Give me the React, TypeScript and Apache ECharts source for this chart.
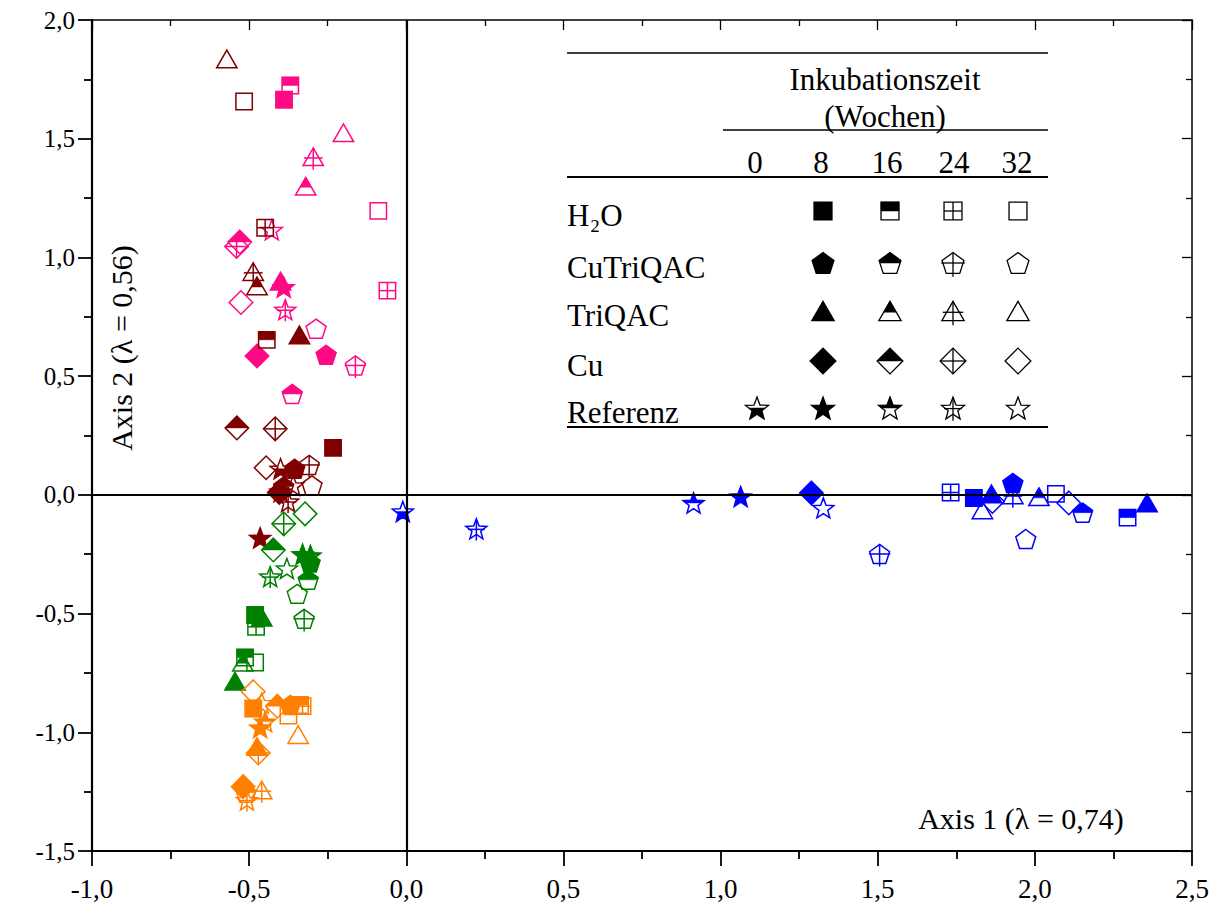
import React, { useEffect, useRef } from "react";
import * as echarts from "echarts";

// ---------- data ----------
const TREATMENTS = ["H2O", "CuTriQAC", "TriQAC", "Cu", "Referenz"];
const TREATMENT_LABELS = ["H₂O", "CuTriQAC", "TriQAC", "Cu", "Referenz"];
const WEEKS = [0, 8, 16, 24, 32];
const X_TICKS = [-1.0, -0.5, 0.0, 0.5, 1.0, 1.5, 2.0, 2.5];
const Y_TICKS = [-1.5, -1.0, -0.5, 0.0, 0.5, 1.0, 1.5, 2.0];
const X_TITLE = "Axis 1 (λ = 0,74)";
const Y_TITLE = "Axis 2 (λ = 0,56)";

type Pt = [string, number, number, number]; // treatment, week, axis1, axis2

const pinkPts: Pt[] = [
  ["H2O", 8, -0.389, 1.664],
  ["H2O", 16, -0.369, 1.724],
  ["H2O", 24, -0.06, 0.86],
  ["H2O", 32, -0.089, 1.196],
  ["TriQAC", 8, -0.4, 0.9],
  ["TriQAC", 16, -0.32, 1.3],
  ["TriQAC", 24, -0.296, 1.424],
  ["TriQAC", 32, -0.2, 1.525],
  ["Cu", 8, -0.475, 0.585],
  ["Cu", 16, -0.53, 1.065],
  ["Cu", 24, -0.54, 1.046],
  ["Cu", 32, -0.526, 0.81],
  ["CuTriQAC", 8, -0.255, 0.59],
  ["CuTriQAC", 16, -0.363, 0.425],
  ["CuTriQAC", 24, -0.162, 0.545],
  ["CuTriQAC", 32, -0.287, 0.7],
  ["Referenz", 8, -0.39, 0.875],
  ["Referenz", 24, -0.385, 0.78],
  ["Referenz", 32, -0.428, 1.116],
];

const maroonPts: Pt[] = [
  ["H2O", 8, -0.233, 0.198],
  ["H2O", 16, -0.444, 0.653],
  ["H2O", 24, -0.449, 1.125],
  ["H2O", 32, -0.516, 1.657],
  ["TriQAC", 8, -0.34, 0.674],
  ["TriQAC", 16, -0.475, 0.88],
  ["TriQAC", 24, -0.487, 0.94],
  ["TriQAC", 32, -0.571, 1.836],
  ["Cu", 8, -0.404, 0.01],
  ["Cu", 16, -0.539, 0.282],
  ["Cu", 24, -0.417, 0.278],
  ["Cu", 32, -0.446, 0.114],
  ["CuTriQAC", 8, -0.355, 0.11],
  ["CuTriQAC", 16, -0.39, 0.035],
  ["CuTriQAC", 24, -0.309, 0.126],
  ["CuTriQAC", 32, -0.3, 0.04],
  ["Referenz", 0, -0.4, 0.11],
  ["Referenz", 8, -0.465, -0.181],
  ["Referenz", 16, -0.4, 0.014],
  ["Referenz", 24, -0.376, -0.028],
  ["Referenz", 32, -0.36, 0.04],
];

const greenPts: Pt[] = [
  ["Cu", 16, -0.423, -0.232],
  ["Cu", 24, -0.39, -0.122],
  ["Cu", 32, -0.322, -0.08],
  ["Referenz", 8, -0.33, -0.25],
  ["Referenz", 16, -0.305, -0.255],
  ["Referenz", 24, -0.433, -0.344],
  ["Referenz", 32, -0.38, -0.31],
  ["CuTriQAC", 8, -0.306, -0.285],
  ["CuTriQAC", 16, -0.312, -0.358],
  ["CuTriQAC", 24, -0.325, -0.522],
  ["CuTriQAC", 32, -0.347, -0.417],
  ["H2O", 8, -0.481, -0.506],
  ["H2O", 16, -0.513, -0.685],
  ["H2O", 24, -0.478, -0.556],
  ["H2O", 32, -0.481, -0.706],
  ["TriQAC", 8, -0.545, -0.785],
  ["TriQAC", 16, -0.52, -0.705],
  ["TriQAC", 8, -0.46, -0.515],
];

const orangePts: Pt[] = [
  ["Cu", 8, -0.519, -1.229],
  ["Cu", 16, -0.41, -0.89],
  ["Cu", 24, -0.471, -1.087],
  ["Cu", 32, -0.487, -0.829],
  ["H2O", 8, -0.487, -0.9],
  ["H2O", 16, -0.338, -0.885],
  ["H2O", 24, -0.33, -0.89],
  ["H2O", 32, -0.375, -0.93],
  ["CuTriQAC", 8, -0.369, -0.885],
  ["CuTriQAC", 16, -0.51, -1.255],
  ["TriQAC", 8, -0.475, -1.06],
  ["TriQAC", 24, -0.46, -1.243],
  ["TriQAC", 32, -0.344, -1.01],
  ["Referenz", 8, -0.465, -0.98],
  ["Referenz", 16, -0.449, -0.955],
  ["Referenz", 24, -0.507, -1.285],
  ["Referenz", 32, -0.46, -0.877],
];

const bluePts: Pt[] = [
  ["Referenz", 0, -0.011, -0.07],
  ["Referenz", 24, 0.223, -0.143],
  ["Referenz", 16, 0.914, -0.034],
  ["Referenz", 8, 1.064, -0.007],
  ["Referenz", 32, 1.327, -0.055],
  ["Cu", 8, 1.289, 0.008],
  ["Cu", 32, 1.865, -0.028],
  ["Cu", 32, 2.108, -0.034],
  ["CuTriQAC", 8, 1.93, 0.05],
  ["CuTriQAC", 16, 2.152, -0.075],
  ["CuTriQAC", 24, 1.506, -0.249],
  ["CuTriQAC", 32, 1.971, -0.186],
  ["H2O", 8, 1.806, -0.013],
  ["H2O", 16, 2.295, -0.096],
  ["H2O", 24, 1.732, 0.01],
  ["H2O", 32, 2.067, 0.004],
  ["TriQAC", 8, 1.862, 0.004],
  ["TriQAC", 8, 2.357, -0.034],
  ["TriQAC", 16, 2.013, -0.008],
  ["TriQAC", 24, 1.93, 0.0],
  ["TriQAC", 32, 1.833, -0.063],
];

const GROUPS = [
  { name: "pink", color: "#FF0A84", pts: pinkPts },
  { name: "maroon", color: "#7F0000", pts: maroonPts },
  { name: "green", color: "#008000", pts: greenPts },
  { name: "orange", color: "#FF8000", pts: orangePts },
  { name: "blue", color: "#0000FF", pts: bluePts },
];

// ---------- marker geometry ----------
const FONT = "'Liberation Serif', 'Times New Roman', serif";

function outline(kind: number, cx: number, cy: number, r: number): number[][] {
  if (kind === 0) {
    const h = 0.78 * r;
    return [[cx - h, cy - h], [cx + h, cy - h], [cx + h, cy + h], [cx - h, cy + h]];
  }
  if (kind === 1) {
    const R = r;
    const c = cy + 0.095 * R;
    const pts: number[][] = [];
    for (let k = 0; k < 5; k++) {
      const a = ((-90 + 72 * k) * Math.PI) / 180;
      pts.push([cx + R * Math.cos(a), c + R * Math.sin(a)]);
    }
    return pts;
  }
  if (kind === 2) {
    const R = 1.12 * r;
    const c = cy + 0.25 * R;
    return [[cx, c - R], [cx + 0.866 * R, c + 0.5 * R], [cx - 0.866 * R, c + 0.5 * R]];
  }
  if (kind === 3) {
    const d = 1.12 * r;
    return [[cx, cy - d], [cx + d, cy], [cx, cy + d], [cx - d, cy]];
  }
  const R = 1.05 * r;
  const c = cy + 0.095 * R;
  const pts: number[][] = [];
  for (let k = 0; k < 10; k++) {
    const a = ((-90 + 36 * k) * Math.PI) / 180;
    const rr = k % 2 === 0 ? R : R * 0.42;
    pts.push([cx + rr * Math.cos(a), c + rr * Math.sin(a)]);
  }
  return pts;
}

function clipY(poly: number[][], yc: number, keepTop: boolean): number[][] {
  const inside = (p: number[]) => (keepTop ? p[1] <= yc : p[1] >= yc);
  const out: number[][] = [];
  for (let i = 0; i < poly.length; i++) {
    const a = poly[i];
    const b = poly[(i + 1) % poly.length];
    const ai = inside(a);
    const bi = inside(b);
    if (ai) out.push(a);
    if (ai !== bi) {
      const t = (yc - a[1]) / (b[1] - a[1]);
      out.push([a[0] + t * (b[0] - a[0]), yc]);
    }
  }
  return out;
}

function crossLines(kind: number, cx: number, cy: number, r: number): number[][] {
  // returns [x1,y1,x2,y2] list
  if (kind === 0) {
    const h = 0.78 * r;
    return [[cx - h, cy, cx + h, cy], [cx, cy - h, cx, cy + h]];
  }
  if (kind === 1) {
    return [[cx - 1.02 * r, cy, cx + 1.02 * r, cy], [cx, cy - 0.9 * r, cx, cy + 1.2 * r]];
  }
  if (kind === 2) {
    const R = 1.12 * r;
    return [[cx - 0.8 * R, cy + 0.1 * R, cx + 0.8 * R, cy + 0.1 * R], [cx, cy - 0.75 * R, cx, cy + 1.1 * R]];
  }
  if (kind === 3) {
    const d = 1.12 * r;
    return [[cx - d, cy, cx + d, cy], [cx, cy - d, cx, cy + d]];
  }
  const R = 1.05 * r;
  return [[cx - 0.75 * R, cy + 0.05 * R, cx + 0.75 * R, cy + 0.05 * R], [cx, cy - 0.85 * R, cx, cy + 1.05 * R]];
}

function markerEls(kind: number, week: number, cx: number, cy: number, r: number, color: string, lw: number): any[] {
  const poly = outline(kind, cx, cy, r);
  const els: any[] = [];
  const wi = WEEKS.indexOf(week);
  if (wi === 1) {
    els.push({ type: "polygon", shape: { points: poly }, style: { fill: color, stroke: color, lineWidth: lw } });
    return els;
  }
  if (wi === 2 || wi === 0) {
    const yc = kind === 2 ? cy + 0.1 * r : cy;
    els.push({ type: "polygon", shape: { points: clipY(poly, yc, wi === 2) }, style: { fill: color, stroke: color, lineWidth: 0.5 } });
  }
  els.push({ type: "polygon", shape: { points: poly }, style: { fill: "none", stroke: color, lineWidth: lw } });
  if (wi === 3) {
    for (const l of crossLines(kind, cx, cy, r)) {
      els.push({ type: "line", shape: { x1: l[0], y1: l[1], x2: l[2], y2: l[3] }, style: { stroke: color, lineWidth: lw } });
    }
  }
  return els;
}

// ---------- legend table (graphic) ----------
const TBL_L = 567;
const TBL_R = 1048;
const COL_X = [757, 823, 890, 953, 1018];
const NUM_X = [755, 821, 887, 954, 1017];
const ROW_Y = [211, 263, 311, 361, 408];

function legendGraphic(): any[] {
  const g: any[] = [];
  const txt = (text: string, x: number, y: number, align: string, size = 31) => ({
    type: "text",
    x,
    y,
    style: { text, fontSize: size, fontFamily: FONT, fill: "#000", textAlign: align, textVerticalAlign: "middle", align, verticalAlign: "middle" },
  });
  const hline = (y: number, x1: number, x2: number, w: number) => ({
    type: "line",
    shape: { x1, y1: y, x2, y2: y },
    style: { stroke: "#000", lineWidth: w },
  });
  g.push(hline(53, TBL_L, TBL_R, 1.3));
  g.push(txt("Inkubationszeit", 885, 79, "center"));
  g.push(txt("(Wochen)", 885, 116, "center"));
  g.push(hline(130, 723, TBL_R, 1.3));
  WEEKS.forEach((w, i) => g.push(txt(String(w), NUM_X[i], 162, "center")));
  g.push(hline(177, TBL_L, TBL_R, 2.2));
  TREATMENT_LABELS.forEach((lab, ti) => {
    g.push(txt(lab, TBL_L, ROW_Y[ti] + 4, "left"));
    WEEKS.forEach((w, wi) => {
      if (w === 0 && ti !== 4) return;
      for (const el of markerEls(ti, w, COL_X[wi], ROW_Y[ti], 11.5, "#000", 1.3)) g.push(el);
    });
  });
  g.push(hline(427, TBL_L, TBL_R, 2.2));
  // axis titles inside plot
  g.push(txt(X_TITLE, 1021, 818, "center", 30));
  g.push({
    type: "text",
    x: 121,
    y: 348,
    rotation: Math.PI / 2,
    style: { text: Y_TITLE, fontSize: 30, fontFamily: FONT, fill: "#000", textAlign: "center", textVerticalAlign: "middle", align: "center", verticalAlign: "middle" },
  });
  return g;
}

const fmt = (v: number) => v.toFixed(1).replace(".", ",");

export default function App() {
  const ref = useRef<HTMLDivElement>(null);
  useEffect(() => {
    if (!ref.current) return;
    const chart = echarts.init(ref.current, null, { renderer: "svg" });
    const axisCommon = (min: number, max: number) => ({
      type: "value",
      min,
      max,
      interval: 0.5,
      splitLine: { show: false },
    });
    const series: any[] = [
      {
        type: "scatter",
        data: [],
        z: 1,
        silent: true,
        markLine: {
          silent: true,
          symbol: "none",
          label: { show: false },
          lineStyle: { color: "#000", width: 2.2, type: "solid" },
          data: [{ xAxis: 0 }, { yAxis: 0 }],
        },
      },
    ];
    GROUPS.forEach((g) => {
      series.push({
        type: "custom",
        name: g.name,
        z: 3,
        encode: { x: 0, y: 1 },
        data: g.pts.map((p) => [p[2], p[3], TREATMENTS.indexOf(p[0]), p[1]]),
        renderItem: (params: any, api: any) => {
          const c = api.coord([api.value(0), api.value(1)]);
          return {
            type: "group",
            children: markerEls(api.value(2), api.value(3), c[0], c[1], 10.5, g.color, 1.5),
          };
        },
      });
    });
    chart.setOption({
      animation: false,
      backgroundColor: "#fff",
      grid: { left: 92, right: 20, top: 20, bottom: 54 },
      xAxis: [
        {
          ...axisCommon(X_TICKS[0], X_TICKS[X_TICKS.length - 1]),
          position: "bottom",
          axisLine: { show: true, onZero: false, lineStyle: { color: "#000", width: 2.2 } },
          axisTick: { show: true, length: 15, lineStyle: { color: "#000", width: 1.8 } },
          minorTick: { show: true, splitNumber: 2, length: 8, lineStyle: { color: "#000", width: 1.8 } },
          axisLabel: { formatter: fmt, fontFamily: FONT, fontSize: 27, color: "#000", margin: 24 },
        },
        {
          ...axisCommon(X_TICKS[0], X_TICKS[X_TICKS.length - 1]),
          position: "top",
          axisLine: { show: true, onZero: false, lineStyle: { color: "#000", width: 1.5 } },
          axisTick: { show: true, inside: true, length: 10, lineStyle: { color: "#000", width: 1.3 } },
          minorTick: { show: true, splitNumber: 2, length: 6, lineStyle: { color: "#000", width: 1.3 } },
          axisLabel: { show: false },
        },
      ],
      yAxis: [
        {
          ...axisCommon(Y_TICKS[0], Y_TICKS[Y_TICKS.length - 1]),
          position: "left",
          axisLine: { show: true, onZero: false, lineStyle: { color: "#000", width: 2.2 } },
          axisTick: { show: true, length: 14, lineStyle: { color: "#000", width: 1.8 } },
          minorTick: { show: true, splitNumber: 2, length: 8, lineStyle: { color: "#000", width: 1.8 } },
          axisLabel: { formatter: fmt, fontFamily: FONT, fontSize: 25, color: "#000", margin: 17 },
        },
        {
          ...axisCommon(Y_TICKS[0], Y_TICKS[Y_TICKS.length - 1]),
          position: "right",
          axisLine: { show: true, onZero: false, lineStyle: { color: "#000", width: 1.5 } },
          axisTick: { show: true, inside: true, length: 10, lineStyle: { color: "#000", width: 1.3 } },
          minorTick: { show: true, splitNumber: 2, length: 6, lineStyle: { color: "#000", width: 1.3 } },
          axisLabel: { show: false },
        },
      ],
      series,
      graphic: legendGraphic(),
    });
    return () => chart.dispose();
  }, []);
  return (
    <div
      ref={ref}
      style={{ position: "absolute", left: 0, top: 0, width: 1212, height: 905, background: "#fff" }}
    />
  );
}
